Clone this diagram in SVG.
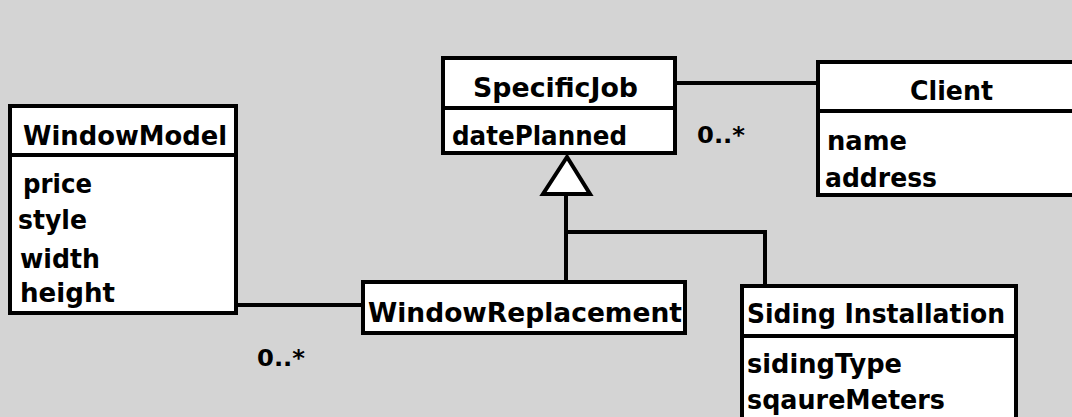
<svg xmlns="http://www.w3.org/2000/svg" width="1072" height="417" viewBox="0 0 1072 417">
<style>
.box{fill:#fff;stroke:#000;stroke-width:4}
.div{stroke:#000;stroke-width:4}
.t{font-family:"DejaVu Sans",sans-serif;font-weight:bold;font-size:27px;fill:#000}
.m{font-family:"DejaVu Sans",sans-serif;font-weight:bold;font-size:23px;fill:#000}
.c{fill:none;stroke:#000;stroke-width:4}
</style>
<rect width="1072" height="417" fill="#d4d4d4"/>
<g id="connectors">
<line class="c" x1="675" y1="83" x2="818" y2="83"/>
<line class="c" x1="236" y1="305" x2="363" y2="305"/>
<polyline class="c" points="566,194 566,282"/>
<polyline class="c" points="566,232 765,232 765,286"/>
<polygon points="567,157 543,194 590,194" fill="#fff" stroke="#000" stroke-width="4"/>
<text class="m" x="697" y="143" textLength="48" lengthAdjust="spacingAndGlyphs">0..*</text>
<text class="m" x="257" y="366" textLength="48" lengthAdjust="spacingAndGlyphs">0..*</text>
</g>
<g id="WindowModel">
<rect class="box" x="10" y="106" width="226" height="207"/>
<line class="div" x1="10" y1="155" x2="236" y2="155"/>
<text class="t" x="23" y="145" textLength="204" lengthAdjust="spacingAndGlyphs">WindowModel</text>
<text class="t" x="23" y="193" textLength="69" lengthAdjust="spacingAndGlyphs">price</text>
<text class="t" x="18" y="229" textLength="69" lengthAdjust="spacingAndGlyphs">style</text>
<text class="t" x="20" y="268" textLength="80" lengthAdjust="spacingAndGlyphs">width</text>
<text class="t" x="20" y="302" textLength="95" lengthAdjust="spacingAndGlyphs">height</text>
</g>
<g id="SpecificJob">
<rect class="box" x="443" y="58" width="232" height="95"/>
<line class="div" x1="443" y1="108" x2="675" y2="108"/>
<text class="t" x="473" y="97" textLength="165" lengthAdjust="spacingAndGlyphs">SpecificJob</text>
<text class="t" x="452" y="145" textLength="175" lengthAdjust="spacingAndGlyphs">datePlanned</text>
</g>
<g id="Client">
<rect class="box" x="818" y="62" width="270" height="133"/>
<line class="div" x1="818" y1="111" x2="1088" y2="111"/>
<text class="t" x="910" y="100" textLength="83" lengthAdjust="spacingAndGlyphs">Client</text>
<text class="t" x="827" y="150" textLength="80" lengthAdjust="spacingAndGlyphs">name</text>
<text class="t" x="825" y="187" textLength="112" lengthAdjust="spacingAndGlyphs">address</text>
</g>
<g id="WindowReplacement">
<rect class="box" x="363" y="282" width="322" height="51"/>
<text class="t" x="368" y="322" textLength="314" lengthAdjust="spacingAndGlyphs">WindowReplacement</text>
</g>
<g id="SidingInstallation">
<rect class="box" x="742" y="286" width="274" height="150"/>
<line class="div" x1="742" y1="336" x2="1016" y2="336"/>
<text class="t" x="747" y="323" textLength="258" lengthAdjust="spacingAndGlyphs">Siding Installation</text>
<text class="t" x="747" y="373" textLength="155" lengthAdjust="spacingAndGlyphs">sidingType</text>
<text class="t" x="747" y="409" textLength="198" lengthAdjust="spacingAndGlyphs">sqaureMeters</text>
</g>
</svg>
